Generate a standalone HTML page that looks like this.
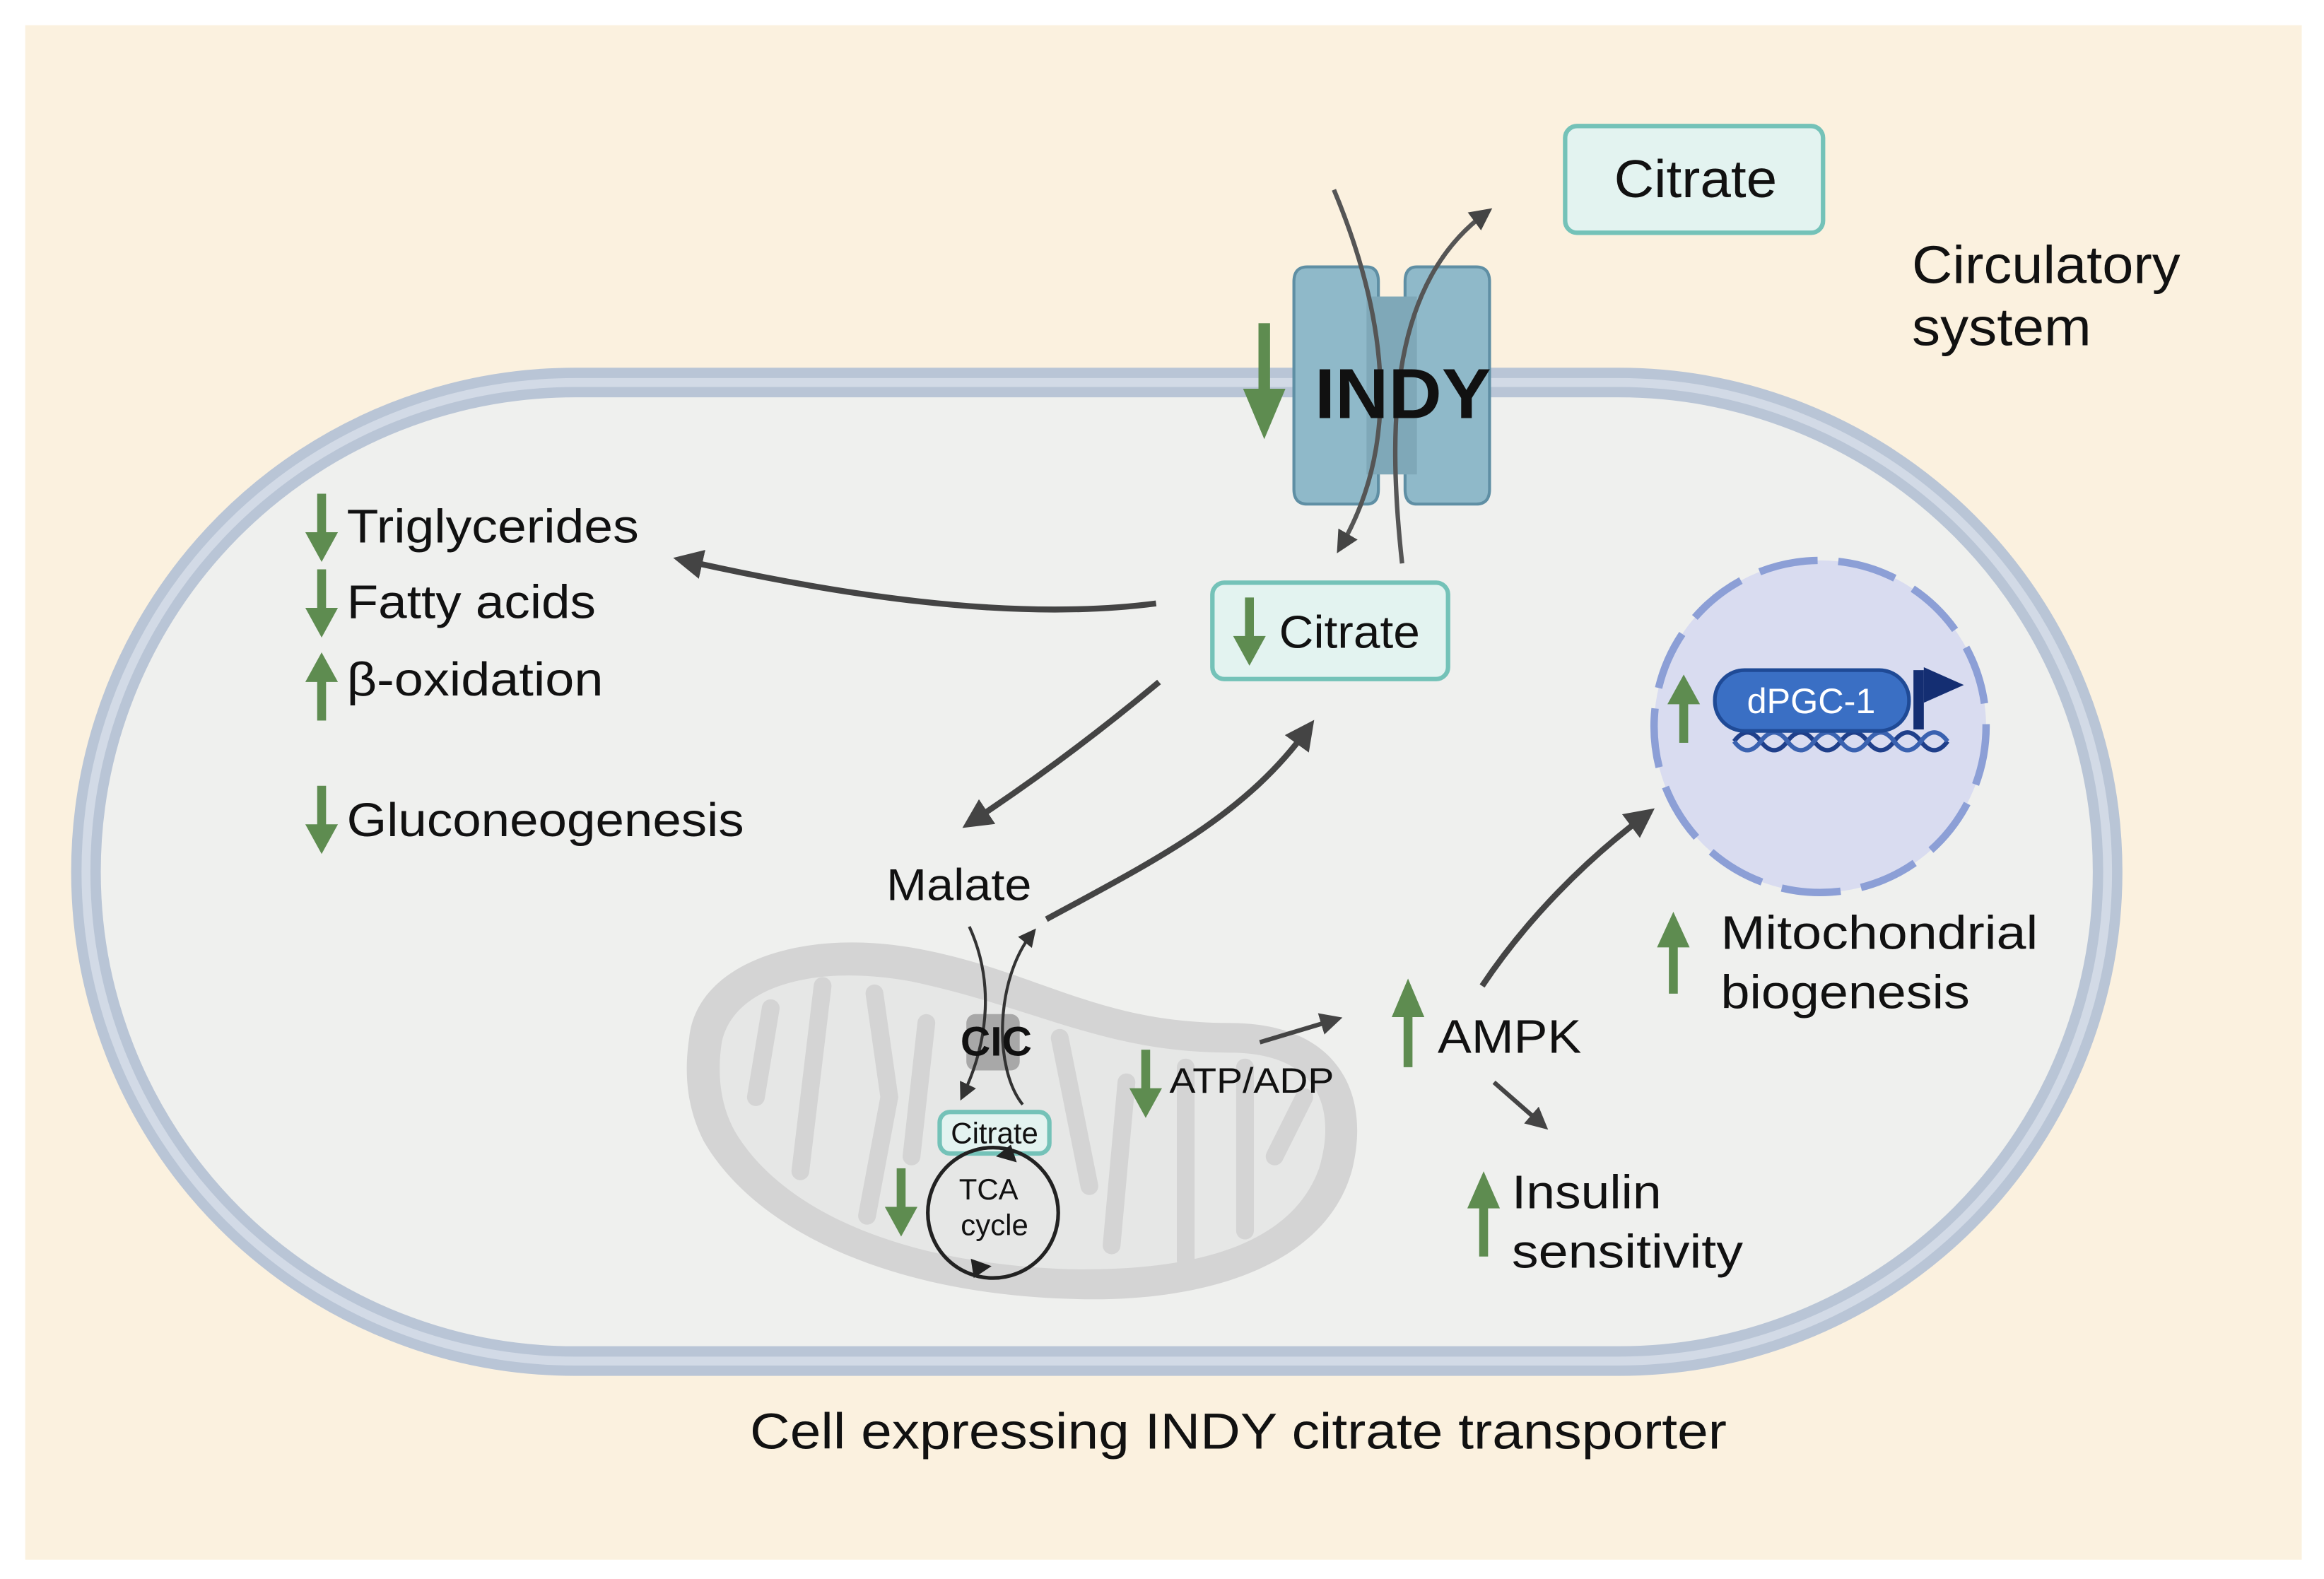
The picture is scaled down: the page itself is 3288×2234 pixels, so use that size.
<!DOCTYPE html>
<html><head><meta charset="utf-8"><style>
html,body{margin:0;padding:0;background:#fff}
svg{display:block}
text{font-family:"Liberation Sans",sans-serif;fill:#111}
</style></head><body>
<svg width="3288" height="2234" viewBox="0 0 1568 1065" preserveAspectRatio="none" xmlns="http://www.w3.org/2000/svg">
<defs>
<marker id="ah" viewBox="0 0 10 10" refX="6" refY="5" markerWidth="5" markerHeight="5" orient="auto"><path d="M0,0 L10,5 L0,10 z" fill="#444"/></marker>
<marker id="ahs" viewBox="0 0 10 10" refX="6" refY="5" markerWidth="6" markerHeight="6" orient="auto"><path d="M0,0 L10,5 L0,10 z" fill="#333"/></marker>
<g id="gd"><rect x="-3" y="0" width="6" height="30" fill="#5E8C50"/><path d="M-11,26 L11,26 L0,46 z" fill="#5E8C50"/></g>
<g id="gu"><rect x="-3" y="16" width="6" height="30" fill="#5E8C50"/><path d="M-11,20 L11,20 L0,0 z" fill="#5E8C50"/></g>
</defs>
<rect x="0" y="0" width="1568" height="1065" fill="#fff"/>
<rect x="17" y="17" width="1536" height="1035" fill="#FBF1DF"/>
<rect x="58" y="258" width="1364" height="660" rx="330" ry="330" fill="#EFF0EE" stroke="#B9C5D6" stroke-width="20"/>
<rect x="58" y="258" width="1364" height="660" rx="330" ry="330" fill="none" stroke="#D2DAE6" stroke-width="6"/>
<path d="M882,180 h40 q8,0 8,10 v140 q0,10 -8,10 h-40 q-9,0 -9,-10 v-140 q0,-10 9,-10z" fill="#8FB9C9" stroke="#5F8FA4" stroke-width="2"/>
<path d="M956,180 h40 q9,0 9,10 v140 q0,10 -9,10 h-40 q-8,0 -8,-10 v-140 q0,-10 8,-10z" fill="#8FB9C9" stroke="#5F8FA4" stroke-width="2"/>
<rect x="922" y="200" width="34" height="120" fill="#7FA8B8"/>
<path d="M900,128 C930,200 950,290 905,368" fill="none" stroke="#555" stroke-width="3" marker-end="url(#ah)"/>
<path d="M946,380 C935,280 940,190 1002,144" fill="none" stroke="#555" stroke-width="3" marker-end="url(#ah)"/>
<text x="887" y="282" font-size="48" font-weight="bold" textLength="119" lengthAdjust="spacingAndGlyphs">INDY</text>
<g transform="translate(853,218) scale(1.3,1.7)"><rect x="-3" y="0" width="6" height="30" fill="#5E8C50"/><path d="M-11,26 L11,26 L0,46 z" fill="#5E8C50"/></g>
<rect x="1056" y="85" width="174" height="72" rx="8" fill="#E3F3F0" stroke="#74C2B8" stroke-width="3"/>
<text x="1089" y="133" font-size="36" textLength="110" lengthAdjust="spacingAndGlyphs">Citrate</text>
<text x="1290" y="191" font-size="36" textLength="181" lengthAdjust="spacingAndGlyphs">Circulatory</text>
<text x="1290" y="233" font-size="36" textLength="121" lengthAdjust="spacingAndGlyphs">system</text>
<rect x="818" y="393" width="159" height="65" rx="8" fill="#E3F3F0" stroke="#74C2B8" stroke-width="3"/>
<use href="#gd" x="843" y="403"/>
<text x="863" y="437" font-size="31" textLength="95" lengthAdjust="spacingAndGlyphs">Citrate</text>
<use href="#gd" x="217" y="333"/><text x="234" y="366" font-size="32" textLength="197" lengthAdjust="spacingAndGlyphs">Triglycerides</text>
<use href="#gd" x="217" y="384"/><text x="234" y="417" font-size="32" textLength="168" lengthAdjust="spacingAndGlyphs">Fatty acids</text>
<use href="#gu" x="217" y="440"/><text x="234" y="469" font-size="32" textLength="173" lengthAdjust="spacingAndGlyphs">β-oxidation</text>
<use href="#gd" x="217" y="530"/><text x="234" y="564" font-size="32" textLength="268" lengthAdjust="spacingAndGlyphs">Gluconeogenesis</text>
<path d="M780,407 C680,420 560,400 462,378" fill="none" stroke="#444" stroke-width="4" marker-end="url(#ah)"/>
<path d="M782,460 C740,495 700,525 656,554" fill="none" stroke="#444" stroke-width="4" marker-end="url(#ah)"/>
<path d="M706,620 C780,580 840,550 882,492" fill="none" stroke="#444" stroke-width="4" marker-end="url(#ah)"/>
<text x="598" y="607" font-size="30" textLength="98" lengthAdjust="spacingAndGlyphs">Malate</text>
<path d="M465,700 C470,650 540,625 620,640 C700,655 740,690 830,690 C905,690 925,740 912,790 C895,850 820,880 720,876 C600,872 510,830 475,770 C462,745 462,720 465,700z" fill="#D4D4D4"/>
<path d="M487,703 C495,665 550,650 615,662 C700,680 745,710 830,710 C890,710 902,748 890,788 C872,838 810,858 720,856 C610,852 530,818 497,765 C485,745 484,722 487,703z" fill="#E6E7E6"/>
<g stroke="#D4D4D4" stroke-width="12" stroke-linecap="round" fill="none">
<path d="M520,680 L510,740"/><path d="M555,665 L540,790"/><path d="M590,670 L600,740 L585,820"/><path d="M625,690 L615,780"/><path d="M715,700 L735,800"/><path d="M760,730 L750,840"/><path d="M800,720 L800,850"/><path d="M840,720 L840,830"/><path d="M880,740 L860,780"/>
</g>
<rect x="652" y="684" width="36" height="38" rx="6" fill="#A8A8A8"/>
<path d="M654,625 C670,660 668,700 650,738" fill="none" stroke="#333" stroke-width="2" marker-end="url(#ahs)"/>
<path d="M690,745 C670,720 672,660 696,630" fill="none" stroke="#333" stroke-width="2" marker-end="url(#ahs)"/>
<text x="648" y="712" font-size="28" font-weight="bold">CIC</text>
<rect x="634" y="750" width="74" height="28" rx="7" fill="#E3F3F0" stroke="#74C2B8" stroke-width="3"/>
<text x="671" y="771" font-size="20" text-anchor="middle">Citrate</text>
<circle cx="670" cy="818" r="44" fill="none" stroke="#222" stroke-width="2.5"/>
<text x="667" y="809" font-size="20" text-anchor="middle">TCA</text>
<text x="671" y="833" font-size="20" text-anchor="middle">cycle</text>
<path d="M655,849 l14,5 -12,8z" fill="#222"/><path d="M686,784 l-14,-4 10,-8z" fill="#222"/>
<use href="#gd" x="608" y="788"/>
<use href="#gd" x="773" y="708"/>
<text x="789" y="737" font-size="24" textLength="111" lengthAdjust="spacingAndGlyphs">ATP/ADP</text>
<path d="M850,703 L900,688" fill="none" stroke="#444" stroke-width="3" marker-end="url(#ah)"/>
<g transform="translate(950,660) scale(1,1.3)"><rect x="-3" y="16" width="6" height="30" fill="#5E8C50"/><path d="M-11,20 L11,20 L0,0 z" fill="#5E8C50"/></g>
<text x="970" y="710" font-size="32" textLength="97" lengthAdjust="spacingAndGlyphs">AMPK</text>
<path d="M1000,665 C1030,620 1070,580 1110,550" fill="none" stroke="#444" stroke-width="4" marker-end="url(#ah)"/>
<path d="M1008,730 L1040,758" fill="none" stroke="#444" stroke-width="3" marker-end="url(#ah)"/>
<g transform="translate(1001,790) scale(1,1.25)"><rect x="-3" y="16" width="6" height="30" fill="#5E8C50"/><path d="M-11,20 L11,20 L0,0 z" fill="#5E8C50"/></g>
<text x="1020" y="815" font-size="32" textLength="101" lengthAdjust="spacingAndGlyphs">Insulin</text>
<text x="1020" y="855" font-size="32" textLength="156" lengthAdjust="spacingAndGlyphs">sensitivity</text>
<circle cx="1228" cy="490" r="112" fill="#D9DCF0" stroke="#8C9FD6" stroke-width="5" stroke-dasharray="40,14"/>
<path d="M1170,500 q9,-12 18,0 t18,0 t18,0 t18,0 t18,0 t18,0 t18,0 t18,0" fill="none" stroke="#1F3F8A" stroke-width="3"/>
<path d="M1170,500 q9,12 18,0 t18,0 t18,0 t18,0 t18,0 t18,0 t18,0 t18,0" fill="none" stroke="#3A62B0" stroke-width="3"/>
<rect x="1157" y="452" width="131" height="41" rx="20" fill="#3A6FC4" stroke="#1F4A96" stroke-width="2.5"/>
<text x="1222" y="481" font-size="24" text-anchor="middle" style="fill:#fff">dPGC-1</text>
<rect x="1291" y="452" width="7" height="40" fill="#142E72"/>
<path d="M1298,450 L1325,462 L1298,474z" fill="#142E72"/>
<use href="#gu" x="1136" y="455"/>
<g transform="translate(1129,615) scale(1,1.2)"><rect x="-3" y="16" width="6" height="30" fill="#5E8C50"/><path d="M-11,20 L11,20 L0,0 z" fill="#5E8C50"/></g>
<text x="1161" y="640" font-size="32" textLength="214" lengthAdjust="spacingAndGlyphs">Mitochondrial</text>
<text x="1161" y="680" font-size="32" textLength="168" lengthAdjust="spacingAndGlyphs">biogenesis</text>
<text x="506" y="977" font-size="34" textLength="659" lengthAdjust="spacingAndGlyphs">Cell expressing INDY citrate transporter</text>
</svg>
</body></html>
